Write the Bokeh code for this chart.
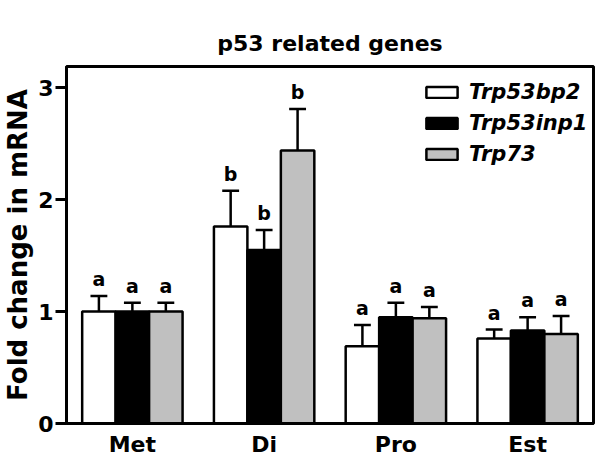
from bokeh.plotting import figure
from bokeh.models import (ColumnDataSource, Legend, LegendItem,
                          FactorRange, Range1d, FixedTicker)
from bokeh.transform import dodge
from bokeh.core.properties import value
from bokeh.embed import file_html
from bokeh.resources import INLINE

# ---------------- data ----------------
phases = ["Met", "Di", "Pro", "Est"]
genes = ["Trp53bp2", "Trp53inp1", "Trp73"]
bp2_mean = [1.00, 1.76, 0.69, 0.76]
bp2_err = [0.14, 0.32, 0.19, 0.08]
inp1_mean = [1.00, 1.55, 0.95, 0.83]
inp1_err = [0.08, 0.18, 0.13, 0.12]
p73_mean = [1.00, 2.44, 0.94, 0.80]
p73_err = [0.08, 0.37, 0.10, 0.16]
bp2_letters = ["a", "b", "a", "a"]
inp1_letters = ["a", "b", "a", "a"]
p73_letters = ["a", "b", "a", "a"]
y_ticks = [0, 1, 2, 3]
title_text = "p53 related genes"
y_label_text = "Fold change in mRNA"

fill_colors = ["#ffffff", "#000000", "#c0c0c0"]
FONT = "DejaVu Sans"

p = figure(x_range=FactorRange(*phases, range_padding=0),
           y_range=Range1d(0, 3.19),
           width=602, height=460, output_backend="svg", toolbar_location=None,
           min_border_left=62, min_border_right=9, min_border_top=66,
           min_border_bottom=37)

p.title.text = title_text
p.title.align = "center"
p.title.text_font = FONT
p.title.text_font_style = "bold"
p.title.text_font_size = "22px"
p.title.text_color = "black"
p.title.standoff = 22

p.xgrid.visible = False
p.ygrid.visible = False
p.outline_line_color = "black"
p.outline_line_width = 3
p.background_fill_color = "white"
p.border_fill_color = "white"

bw = 0.254
series = [(bp2_mean, bp2_err, bp2_letters),
          (inp1_mean, inp1_err, inp1_letters),
          (p73_mean, p73_err, p73_letters)]
items = []
for i, (means, errs, letters) in enumerate(series):
    off = (i - 1) * bw
    upper = [m + e for m, e in zip(means, errs)]
    src = ColumnDataSource(dict(
        phase=phases, mean=means, upper=upper,
        letter_y=[u + 0.15 for u in upper],
        letter=letters))
    r = p.vbar(x=dodge("phase", off, range=p.x_range), top="mean", bottom=0,
               width=bw, source=src, fill_color=fill_colors[i],
               line_color="black", line_width=2.5)
    items.append(LegendItem(label=genes[i], renderers=[r]))
    p.segment(x0=dodge("phase", off, range=p.x_range), y0="mean",
              x1=dodge("phase", off, range=p.x_range), y1="upper",
              source=src, line_color="black", line_width=2.5)
    p.segment(x0=dodge("phase", off - 0.064, range=p.x_range), y0="upper",
              x1=dodge("phase", off + 0.064, range=p.x_range), y1="upper",
              source=src, line_color="black", line_width=2.5)
    p.text(x=dodge("phase", off, range=p.x_range), y="letter_y", text="letter",
           source=src, text_align="center",
           text_baseline="alphabetic", text_font=value(FONT),
           text_font_style="bold", text_font_size="19px", text_color="black")

legend = Legend(items=items, location=(356, 257), orientation="vertical",
                glyph_width=39, glyph_height=14, label_standoff=8,
                label_height=25, spacing=6, padding=0, margin=0,
                label_text_font=FONT, label_text_font_style="bold italic",
                label_text_font_size="21px", label_text_color="black",
                border_line_color=None, background_fill_alpha=0)
p.add_layout(legend, "center")

# axes
p.yaxis.ticker = FixedTicker(ticks=y_ticks)
p.yaxis.axis_line_width = 3
p.yaxis.major_tick_line_width = 3
p.yaxis.major_tick_out = 11
p.yaxis.major_tick_in = 0
p.yaxis.minor_tick_line_color = None
p.yaxis.major_label_standoff = 2
p.yaxis.major_label_text_font = FONT
p.yaxis.major_label_text_font_style = "bold"
p.yaxis.major_label_text_font_size = "22px"
p.yaxis.major_label_text_color = "black"
p.yaxis.axis_label = y_label_text
p.yaxis.axis_label_text_font = FONT
p.yaxis.axis_label_text_font_style = "bold"
p.yaxis.axis_label_text_font_size = "26px"
p.yaxis.axis_label_text_color = "black"
p.yaxis.axis_label_standoff = 2

p.xaxis.axis_line_width = 3
p.xaxis.major_tick_line_color = None
p.xaxis.major_tick_out = 0
p.xaxis.major_tick_in = 0
p.xaxis.minor_tick_line_color = None
p.xaxis.major_label_standoff = 8
p.xaxis.major_label_text_font = FONT
p.xaxis.major_label_text_font_style = "bold"
p.xaxis.major_label_text_font_size = "22px"
p.xaxis.major_label_text_color = "black"

open("out.html", "w").write(file_html(p, INLINE))
